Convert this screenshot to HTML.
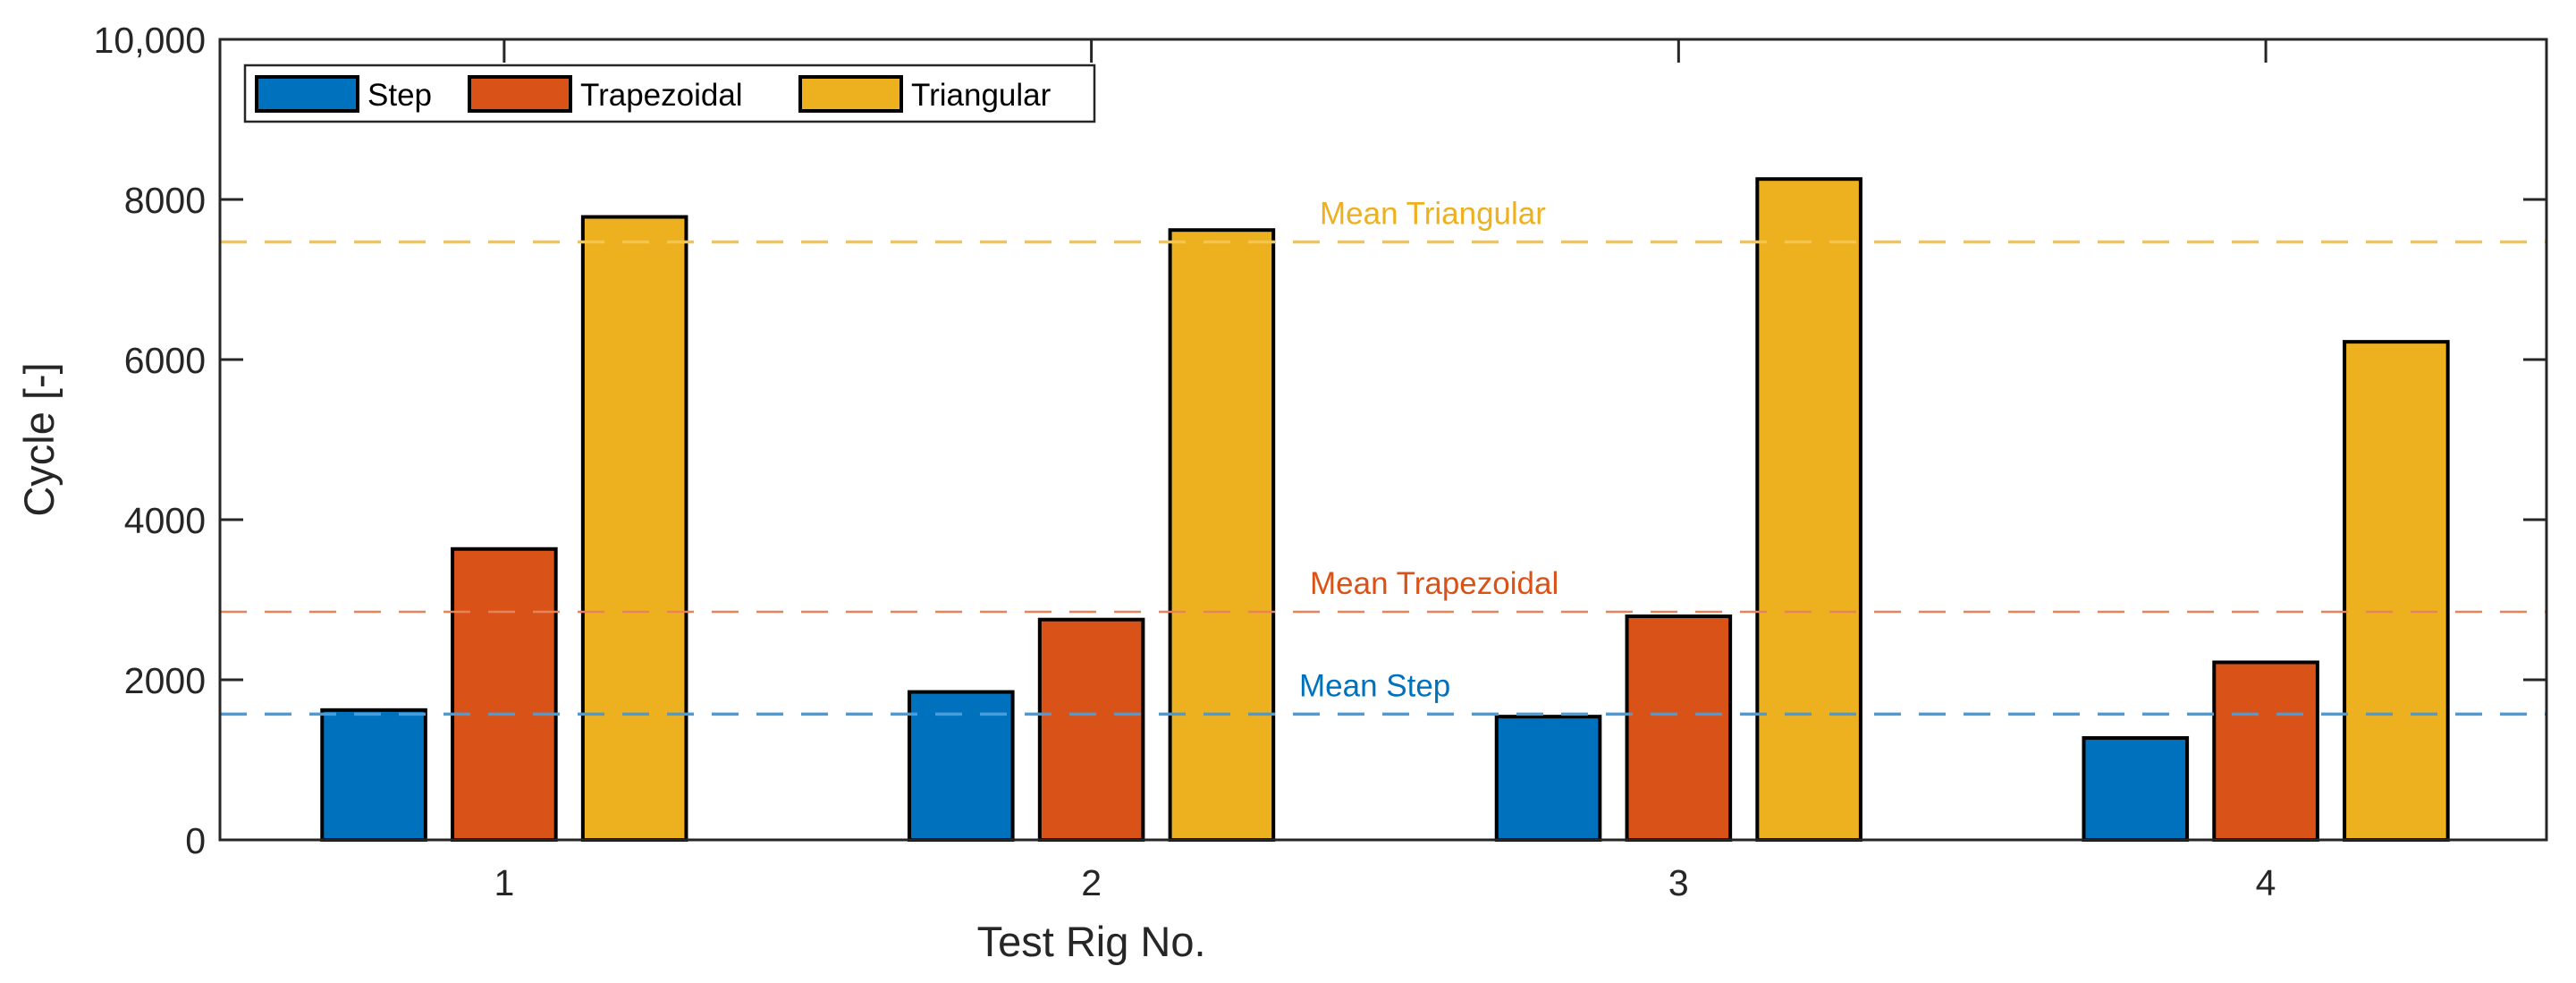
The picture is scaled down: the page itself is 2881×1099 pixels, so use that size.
<!DOCTYPE html>
<html><head><meta charset="utf-8"><style>
html,body{margin:0;padding:0;background:#fff;}
svg{display:block;font-family:"Liberation Sans",Arial,sans-serif;}
</style></head><body>
<svg id="chart" width="2881" height="1099" viewBox="0 0 2881 1099" xmlns="http://www.w3.org/2000/svg"></svg>
<script>
const categories = [1, 2, 3, 4];
const stepValues = [1622, 1848, 1540, 1273];
const trapezoidalValues = [3634, 2752, 2793, 2218];
const triangularValues = [7782, 7618, 8255, 6222];
const yTicks = [0, 2000, 4000, 6000, 8000, 10000];
const yTickLabels = ["0", "2000", "4000", "6000", "8000", "10,000"];
const seriesNames = ["Step", "Trapezoidal", "Triangular"];

const L = 246, R = 2848, T = 44, B = 939;
const xMin = 0.516, xMax = 4.478, yMin = 0, yMax = 10000;
const sx = v => L + (v - xMin) / (xMax - xMin) * (R - L);
const sy = v => B - (v - yMin) / (yMax - yMin) * (B - T);
const NS = "http://www.w3.org/2000/svg";
const svg = document.getElementById('chart');
function mk(tag, attrs, parent) {
  const e = document.createElementNS(NS, tag);
  for (const k in attrs) e.setAttribute(k, attrs[k]);
  (parent || svg).appendChild(e);
  return e;
}
const colors = ["#0072BD", "#D95319", "#EDB120"];
const lineColors = ["#4A9BD6", "#E8825A", "#F2C451"];
const series = [stepValues, trapezoidalValues, triangularValues];
const groupW = sx(2) - sx(1);
const barW = groupW * 0.176;
const offs = [-0.222, 0, 0.222];

series.forEach((vals, s) => {
  vals.forEach((v, i) => {
    const cx = sx(categories[i]) + offs[s] * groupW;
    const r = mk('rect', {x: cx - barW / 2, y: sy(v), width: barW, height: sy(0) - sy(v), fill: colors[s], stroke: "#000", 'stroke-width': 4});
    
    
  });
});

const meanLabels = ["Mean Step", "Mean Trapezoidal", "Mean Triangular"];
const labelX = [1453, 1465, 1476];
series.forEach((vals, s) => {
  const m = vals.reduce((a, b) => a + b, 0) / vals.length;
  const ln = mk('line', {x1: L, x2: R, y1: sy(m), y2: sy(m), stroke: lineColors[s], 'stroke-width': s === 1 ? 2.5 : 3.5, 'stroke-dasharray': "30,20"});
  
  
  const t = mk('text', {x: labelX[s], y: sy(m) - 20, fill: colors[s], 'font-size': 35});
  t.textContent = meanLabels[s];
  
  
});

const box = mk('rect', {x: L, y: T, width: R - L, height: B - T, fill: "none", stroke: "#262626", 'stroke-width': 3});



yTicks.forEach((v, i) => {
  const y = sy(v);
  const t1 = mk('line', {x1: L, x2: L + 26, y1: y, y2: y, stroke: "#262626", 'stroke-width': 3});
  
  
  const t2 = mk('line', {x1: R, x2: R - 26, y1: y, y2: y, stroke: "#262626", 'stroke-width': 3});
  
  
  const lb = mk('text', {x: L - 16, y: y + 15, 'text-anchor': 'end', fill: "#262626", 'font-size': 41});
  lb.textContent = yTickLabels[i];
  
  
});

categories.forEach(c => {
  const x = sx(c);
  const t1 = mk('line', {x1: x, x2: x, y1: T, y2: T + 26, stroke: "#262626", 'stroke-width': 3});
  
  
  const lb = mk('text', {x: x, y: B + 62, 'text-anchor': 'middle', fill: "#262626", 'font-size': 41});
  lb.textContent = String(c);
  
  
});

const xt = mk('text', {x: sx(2), y: 1069, 'text-anchor': 'middle', fill: "#262626", 'font-size': 47});
xt.textContent = "Test Rig No.";


const yt = mk('text', {x: 0, y: 0, 'text-anchor': 'middle', fill: "#262626", 'font-size': 47, transform: 'translate(60,' + ((T + B) / 2) + ') rotate(-90)'});
yt.textContent = "Cycle [-]";



const lg = mk('g', {});


const lgBox = mk('rect', {x: 274, y: 73, width: 950, height: 63, fill: "#fff", stroke: "#262626", 'stroke-width': 2.5}, lg);


const swX = [287, 525, 895];
seriesNames.forEach((n, s) => {
  const sw = mk('rect', {x: swX[s], y: 86, width: 113, height: 38, fill: colors[s], stroke: "#000", 'stroke-width': 4}, lg);
  
  
  const tx = mk('text', {x: swX[s] + 124, y: 118, fill: "#000", 'font-size': 35}, lg);
  tx.textContent = n;
  
  
});
</script>
</body></html>
